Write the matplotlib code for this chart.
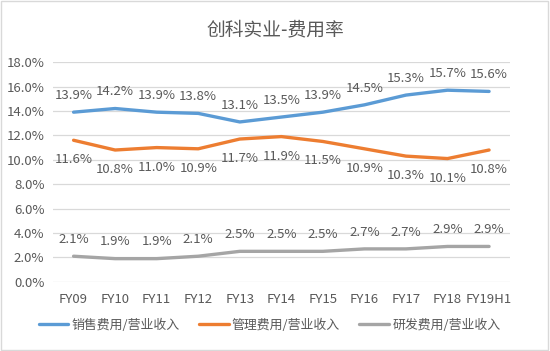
import matplotlib
matplotlib.use("Agg")
import matplotlib.pyplot as plt
from matplotlib.patches import Rectangle

plt.rcParams['font.family'] = ['Noto Sans CJK SC', 'DejaVu Sans']

categories = ["FY09", "FY10", "FY11", "FY12", "FY13", "FY14", "FY15", "FY16", "FY17", "FY18", "FY19H1"]
sales = [13.9, 14.2, 13.9, 13.8, 13.1, 13.5, 13.9, 14.5, 15.3, 15.7, 15.6]
admin = [11.6, 10.8, 11.0, 10.9, 11.7, 11.9, 11.5, 10.9, 10.3, 10.1, 10.8]
rnd = [2.1, 1.9, 1.9, 2.1, 2.5, 2.5, 2.5, 2.7, 2.7, 2.9, 2.9]
series_names = ["销售费用/营业收入", "管理费用/营业收入", "研发费用/营业收入"]
colors = ["#5B9BD5", "#ED7D31", "#A5A5A5"]
title = "创科实业-费用率"
yticks = [0, 2, 4, 6, 8, 10, 12, 14, 16, 18]

txt = "#595959"
fig = plt.figure(figsize=(5.5, 3.51), dpi=100)
ax = fig.add_axes([0.096, 0.197, 0.831, 0.626])

x = list(range(len(categories)))
offsets = [12, -14, 12]
for vals, name, c, off in zip([sales, admin, rnd], series_names, colors, offsets):
    ax.plot(x, vals, color=c, lw=2.4, label=name, solid_capstyle='round')
    for xi, v in zip(x, vals):
        ax.annotate(f"{v:.1f}%", (xi, v), xytext=(0, off), textcoords="offset points",
                    ha="center", va="center", fontsize=9.5, color=txt)

ax.set_xlim(-0.5, len(categories) - 0.5)
ax.set_ylim(0, 18)
ax.set_yticks(yticks)
ax.set_yticklabels([f"{t:.1f}%" for t in yticks])
ax.set_xticks(x)
ax.set_xticklabels(categories)
ax.tick_params(axis='both', length=0, labelsize=9.5, colors=txt)
ax.tick_params(axis='x', pad=8)
ax.tick_params(axis='y', pad=6)
ax.grid(axis='y', color="#D9D9D9", lw=0.9)
ax.set_axisbelow(True)
for s in ax.spines.values():
    s.set_visible(False)

fig.text(0.5, 0.915, title, ha="center", va="center", fontsize=13.5, color=txt)
fig.legend(loc="center", bbox_to_anchor=(0.49, 0.073), ncol=3, frameon=False,
           fontsize=9.3, labelcolor=txt, handlelength=2.3, columnspacing=1.5, handletextpad=0.25)
fig.patches.append(Rectangle((0.002, 0.003), 0.995, 0.994, transform=fig.transFigure,
                             fill=False, edgecolor="#D9D9D9", lw=1))
fig.savefig("out.png", dpi=100)
